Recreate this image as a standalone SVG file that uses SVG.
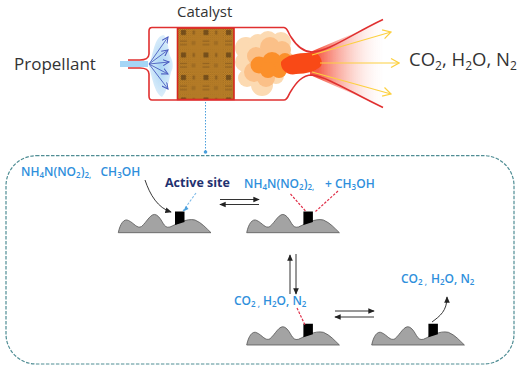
<svg xmlns="http://www.w3.org/2000/svg" width="520" height="366" viewBox="0 0 520 366">
  <style>
    .big { font-family: "Open Sans", "Noto Sans", sans-serif; fill: #333; }
    .chem { font-family: "Open Sans", "Noto Sans", sans-serif; font-size: 12px; font-weight: 600; fill: #2f8fdc; }
    .wall { fill: none; stroke: #e03030; stroke-width: 1.6; }
    .eq { stroke: #333; stroke-width: 1; fill: none; }
    .bond { stroke: #e0304a; stroke-width: 1.2; stroke-dasharray: 2.5 1.5; fill: none; }
    .jet { stroke: #fcd040; stroke-width: 1.2; fill: none; }
    .spray { stroke: #4a5cc0; stroke-width: 0.9; fill: none; }
  </style>
  <defs>
    <marker id="tip" viewBox="0 0 8 8" refX="7" refY="4" markerWidth="6.500" markerHeight="6.500" orient="auto" markerUnits="userSpaceOnUse">
      <path d="M0,0.5 L8,4 L0,7.5 Z" fill="#222"/>
    </marker>
    <marker id="sprayTip" viewBox="0 0 8 8" refX="7" refY="4" markerWidth="7" markerHeight="7" orient="auto" markerUnits="userSpaceOnUse">
      <path d="M0,0.5 L7,4 L0,7.5" fill="none" stroke="#4a5cc0" stroke-width="1.2"/>
    </marker>
    <marker id="jetTip" viewBox="0 0 10 10" refX="9" refY="5" markerWidth="10" markerHeight="10" orient="auto" markerUnits="userSpaceOnUse">
      <path d="M1,0.5 L9,5 L1,9.5" fill="none" stroke="#fcd040" stroke-width="1.2"/>
    </marker>
    <pattern id="fine" width="2" height="2" patternUnits="userSpaceOnUse">
      <rect width="2" height="2" fill="#d08e2c"/>
      <rect width="1" height="1" fill="#96661f"/>
      <rect x="1" y="1" width="1" height="1" fill="#96661f"/>
    </pattern>
    <pattern id="weave" width="22.500" height="22.500" patternUnits="userSpaceOnUse" x="178" y="27">
      <rect width="22.500" height="22.500" fill="url(#fine)"/>
      <rect x="3" y="3" width="5" height="5" fill="#5c3c16" opacity="0.7"/>
      <rect x="14.500" y="3.500" width="2.500" height="4" fill="#5c3c16" opacity="0.4"/>
      <rect x="2" y="13.500" width="7" height="1.200" fill="#5c3c16" opacity="0.4"/>
      <rect x="2" y="17" width="7" height="1.200" fill="#5c3c16" opacity="0.4"/>
      <rect x="13.500" y="14" width="4" height="4" fill="#5c3c16" opacity="0.22"/>
    </pattern>
    <linearGradient id="plume" gradientUnits="userSpaceOnUse" x1="318" y1="0" x2="388" y2="0">
      <stop offset="0" stop-color="#f4402a" stop-opacity="0.85"/>
      <stop offset="0.5" stop-color="#f88a78" stop-opacity="0.35"/>
      <stop offset="1" stop-color="#ffffff" stop-opacity="0"/>
    </linearGradient>
    <radialGradient id="mist" cx="0.5" cy="0.5" r="0.6">
      <stop offset="0" stop-color="#a8d4f4"/>
      <stop offset="1" stop-color="#e6f3fc"/>
    </radialGradient>
    <filter id="soft" x="-10%" y="-10%" width="120%" height="120%"><feGaussianBlur stdDeviation="0.6"/></filter>
    <g id="surface">
      <path d="M118.300,232.700 C120,224 124,218 128.500,220.500 C134,223 137,229 141.500,226.500 C147,222 151,212 156.500,215 C163,219 163,229 170,227 C177,224 186,218 195,220 C202,223 206,228 211,232.700 Z" fill="#a3a3a3" stroke="#555" stroke-width="0.800"/>
      <path d="M175,211.500 H184.500 V222 L175,225 Z" fill="#000"/>
    </g>
  </defs>

  <g id="engine">
    <g id="spray-cloud">
      <path d="M120,61 H148 V67 H120 Z" fill="#a6d6f6"/>
      <path d="M149,66 C154,50 155,36 164,35 C169,42 168,50 170,56 C173,60 174,68 171,72 C169,80 168,90 162,97 C155,94 152,78 149,66 Z" fill="url(#mist)" filter="url(#soft)"/>
    </g>
    <rect id="catalyst-bed" x="177.500" y="28" width="56.500" height="71.500" fill="url(#weave)" stroke="#d8261e" stroke-width="1.600"/>
    <g id="flame" filter="url(#soft)">
      <path d="M310,52 L383,21 V107 L310,75 Z" fill="url(#plume)"/>
      <g fill="#fcdab2">
        <circle cx="246" cy="48" r="11"/><circle cx="245" cy="62" r="10"/><circle cx="247" cy="78" r="9"/>
        <circle cx="262" cy="85" r="11"/><circle cx="258" cy="44" r="10"/><circle cx="268" cy="41" r="10"/>
        <circle cx="281" cy="42" r="10"/><circle cx="276" cy="76" r="8"/><circle cx="265" cy="62" r="18"/>
      </g>
      <g fill="#fbc088">
        <circle cx="256" cy="56" r="9"/><circle cx="270" cy="47" r="10"/><circle cx="282" cy="50" r="9"/>
        <circle cx="254" cy="72" r="10"/><circle cx="266" cy="78" r="9"/><circle cx="286" cy="62" r="10"/>
      </g>
      <g fill="#fb8f2c">
        <circle cx="259" cy="65" r="8.500"/><circle cx="272" cy="62" r="10"/><circle cx="279" cy="70" r="8"/><circle cx="285" cy="60" r="7"/><circle cx="268" cy="70" r="8"/>
      </g>
      <path d="M281,62 C286,55 300,52 316,53 C321,56 323,62 321,66 C317,71 306,74 296,74 C288,76 280,70 281,62 Z" fill="#f94a18"/>
    </g>
    <g id="engine-wall">
      <path class="wall" d="M128,60 H140 C145,60 149,58 149,54 V31 Q149,27.500 152,27.500 H284 C288,28 288,33 291,37 C296,45 302,52 312,52 C328,52 352,34 383,19.500"/>
      <path class="wall" d="M128,68 H140 C145,68 149,70 149,74 V96 Q149,100 152,100 H284 C288,100 288,95 291,91 C296,83 302,75 312,75 C328,77 352,93 383,107.500"/>
    </g>
    <g id="spray">
      <path class="spray" marker-end="url(#sprayTip)" d="M149,64 L168,37"/>
      <path class="spray" marker-end="url(#sprayTip)" d="M149,64 L168,50"/>
      <path class="spray" marker-end="url(#sprayTip)" d="M149,64 L169,62"/>
      <path class="spray" marker-end="url(#sprayTip)" d="M149,64 L168,74"/>
      <path class="spray" marker-end="url(#sprayTip)" d="M149,64 L168,89"/>
    </g>
    <g id="jets">
      <path class="jet" marker-end="url(#jetTip)" d="M312,55 L391,32"/>
      <path class="jet" marker-end="url(#jetTip)" d="M320,63 H399"/>
      <path class="jet" marker-end="url(#jetTip)" d="M312,72 L391,94"/>
    </g>
    <path d="M205.500,102 V153" stroke="#4a9fdc" stroke-width="1" stroke-dasharray="1.500 1.500" fill="none"/>
    <circle cx="205.500" cy="152" r="1.800" fill="#4a9fdc"/>
  </g>

  <text class="big" x="14" y="70" font-size="17">Propellant</text>
  <text class="big" x="177" y="17" font-size="15">Catalyst</text>
  <text class="big" x="409" y="66" font-size="18.500">CO<tspan font-size="12" dy="4">2</tspan><tspan dy="-4">, H</tspan><tspan font-size="12" dy="4">2</tspan><tspan dy="-4">O, N</tspan><tspan font-size="12" dy="4">2</tspan></text>

  <rect id="frame" x="6" y="155.700" width="508" height="208.300" rx="30" ry="30" fill="none" stroke="#4f8d94" stroke-width="1.200" stroke-dasharray="3.500 1.500"/>

  <g id="site-empty">
    <use href="#surface"/>
    <text class="chem" x="21" y="176">NH<tspan font-size="8" dy="2">4</tspan><tspan dy="-2">N(NO</tspan><tspan font-size="8" dy="2">2</tspan><tspan dy="-2">)</tspan><tspan font-size="8" dy="2">2,</tspan><tspan dy="-2" x="100.500">CH</tspan><tspan font-size="8" dy="2">3</tspan><tspan dy="-2">OH</tspan></text>
    <text x="165" y="187" font-family="'Open Sans','Noto Sans',sans-serif" font-size="12.500" font-weight="700" fill="#1f3170">Active site</text>
    <path d="M145,180 C150,195 158,208 171,212" stroke="#222" stroke-width="0.900" fill="none" marker-end="url(#tip)"/>
    <path d="M196,193 L183,211" stroke="#7ab8e8" stroke-width="1.100" stroke-dasharray="2.500 1.500" fill="none"/>
    <path d="M186,206 L183,211.500 L188.500,209 Z" fill="#4a9fdc"/>
  </g>

  <g id="site-adsorbed">
    <use href="#surface" x="128.400"/>
    <text class="chem" x="244" y="188">NH<tspan font-size="8" dy="2">4</tspan><tspan dy="-2">N(NO</tspan><tspan font-size="8" dy="2">2</tspan><tspan dy="-2">)</tspan><tspan font-size="8" dy="2">2,</tspan><tspan dy="-2" x="325">+ CH</tspan><tspan font-size="8" dy="2">3</tspan><tspan dy="-2">OH</tspan></text>
    <path class="bond" d="M290.500,194 L305.500,211"/>
    <path class="bond" d="M338,191 L315,212"/>
  </g>

  <g id="site-product">
    <use href="#surface" x="128.400" y="112.300"/>
    <text class="chem" x="234" y="305">CO<tspan font-size="8" dy="2">2 ,</tspan><tspan dy="-2" x="263">H</tspan><tspan font-size="8" dy="2">2</tspan><tspan dy="-2">O, N</tspan><tspan font-size="8" dy="2">2</tspan></text>
    <path class="bond" d="M297,308 L305,325"/>
  </g>

  <g id="site-free">
    <use href="#surface" x="253.400" y="112.300"/>
    <text class="chem" x="401" y="283">CO<tspan font-size="8" dy="2">2 ,</tspan><tspan dy="-2" x="431">H</tspan><tspan font-size="8" dy="2">2</tspan><tspan dy="-2">O, N</tspan><tspan font-size="8" dy="2">2</tspan></text>
    <path d="M432,322 C440,316 447,311 447,297" stroke="#222" stroke-width="0.900" fill="none" marker-end="url(#tip)"/>
  </g>

  <g id="connectors">
    <path class="eq" marker-end="url(#tip)" d="M220,199.500 H259"/>
    <path class="eq" marker-end="url(#tip)" d="M259,204.500 H220"/>
    <path class="eq" marker-end="url(#tip)" d="M290,294 V255"/>
    <path class="eq" marker-end="url(#tip)" d="M296,254 V294"/>
    <path class="eq" marker-end="url(#tip)" d="M335,311 H374"/>
    <path class="eq" marker-end="url(#tip)" d="M374,317 H335"/>
  </g>
</svg>
